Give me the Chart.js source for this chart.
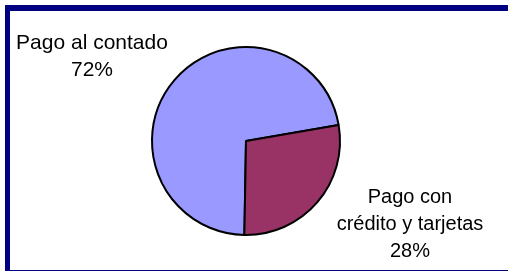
<!DOCTYPE html>
<html lang="es">
<head>
    <meta charset="UTF-8">
    <title>Forma de pago</title>
    <script src="https://cdn.jsdelivr.net/npm/chart.js@4.4.0/dist/chart.umd.min.js"></script>
    <style>
        html, body {
            margin: 0;
            padding: 0;
            background: white;
            overflow: hidden;
        }
        .wrap {
            position: relative;
            width: 508px;
            height: 272px;
        }
        .frame {
            position: absolute;
            left: 5px;
            top: 5px;
            width: 520px;
            height: 259px;
            border-top: 6px solid #000080;
            border-left: 5px solid #000080;
            border-bottom: 1px solid #000080;
            pointer-events: none;
        }
        .label {
            position: absolute;
            font-family: "Liberation Sans", Arial, sans-serif;
            font-size: 20px;
            line-height: 27px;
            text-align: center;
            color: #000;
        }
    </style>
</head>
<body>
    <div class="wrap">
        <canvas id="pieChart" width="508" height="272"></canvas>
        <div class="frame"></div>
        <div class="label" id="lbl0" style="left:0px; top:28px; width:184px; font-size:21px;"></div>
        <div class="label" id="lbl1" style="left:330px; top:183px; width:160px;"></div>
    </div>

    <script>
        // data
        const categories = ['Pago al contado', 'Pago con crédito y tarjetas'];
        const labelLines = [['Pago al contado'], ['Pago con', 'crédito y tarjetas']];
        const values = [72, 28];
        const colors = ['#9999FF', '#993366'];

        const total = values.reduce((a, b) => a + b, 0);
        labelLines.forEach((lines, i) => {
            const pct = Math.round(values[i] / total * 100) + '%';
            document.getElementById('lbl' + i).innerHTML = lines.concat([pct]).join('<br>');
        });

        new Chart(document.getElementById('pieChart'), {
            type: 'pie',
            data: {
                labels: categories,
                datasets: [{
                    data: values,
                    backgroundColor: colors,
                    borderColor: '#000000',
                    borderWidth: 2
                }]
            },
            options: {
                responsive: false,
                animation: false,
                rotation: 181,
                layout: {
                    padding: { left: 151, top: 46, right: 167, bottom: 36 }
                },
                plugins: {
                    legend: { display: false },
                    tooltip: { enabled: false }
                }
            }
        });
    </script>
</body>
</html>
